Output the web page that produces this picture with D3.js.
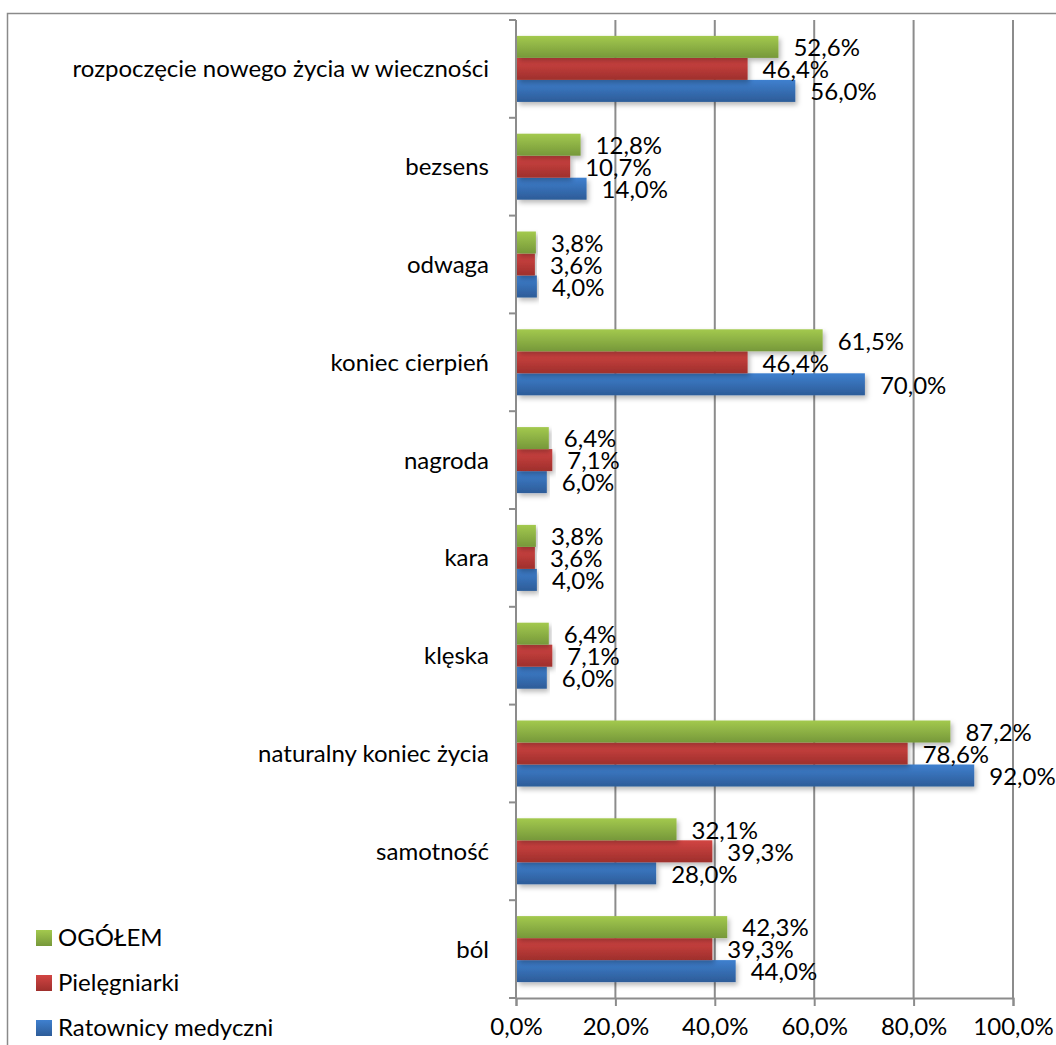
<!DOCTYPE html>
<html>
<head>
<meta charset="utf-8">
<script src="https://cdn.jsdelivr.net/npm/d3@7"></script>
<style>
  html, body { margin: 0; padding: 0; background: #fff; }
  svg { display: block; }
  text { font-family: Lato, "Open Sans", sans-serif; fill: #000; }
</style>
</head>
<body>
<svg id="chart" width="1056" height="1045"></svg>
<script>
// Categories, top to bottom
const categories = [
  "rozpoczęcie nowego życia w wieczności",
  "bezsens",
  "odwaga",
  "koniec cierpień",
  "nagroda",
  "kara",
  "klęska",
  "naturalny koniec życia",
  "samotność",
  "ból"
];

// Series (percent), listed in the order the bars are stacked inside each group
const seriesNames = ["OGÓŁEM", "Pielęgniarki", "Ratownicy medyczni"];
const ogolem       = [52.6, 12.8, 3.8, 61.5, 6.4, 3.8, 6.4, 87.2, 32.1, 42.3];
const pielegniarki = [46.4, 10.7, 3.6, 46.4, 7.1, 3.6, 7.1, 78.6, 39.3, 39.3];
const ratownicy    = [56.0, 14.0, 4.0, 70.0, 6.0, 4.0, 6.0, 92.0, 28.0, 44.0];

const xTicks = [0, 20, 40, 60, 80, 100];

const seriesValues = [ogolem, pielegniarki, ratownicy];
const palette = [
  { key: "g", top: "#a3c94e", bottom: "#76983a" },
  { key: "r", top: "#d24543", bottom: "#9e2f2c" },
  { key: "b", top: "#3f80cf", bottom: "#2d5c98" }
];

const FONT_SIZE = 24;
const pct = d => d.toFixed(1).replace(".", ",") + "%";

const svg = d3.select("#chart");
const defs = svg.append("defs");

palette.forEach(p => {
  const g = defs.append("linearGradient")
    .attr("id", "grad-" + p.key)
    .attr("x1", 0).attr("y1", 0).attr("x2", 0).attr("y2", 1);
  g.append("stop").attr("offset", "0%").attr("stop-color", p.top);
  g.append("stop").attr("offset", "100%").attr("stop-color", p.bottom);
});

const shadow = defs.append("filter").attr("id", "shadow")
  .attr("x", "-5%").attr("y", "-20%").attr("width", "115%").attr("height", "160%");
shadow.append("feDropShadow")
  .attr("dx", 2).attr("dy", 3).attr("stdDeviation", 2.5)
  .attr("flood-color", "#000").attr("flood-opacity", 0.28);

// Outer frame (top and left edges fall inside the canvas)
svg.append("path")
  .attr("d", "M7.5,1045 V13.5 H1056")
  .attr("fill", "none").attr("stroke", "#8a8a8a").attr("stroke-width", 1.5);

const plot = { left: 516, right: 1013, top: 20, bottom: 998 };

const x = d3.scaleLinear().domain([0, 100]).range([plot.left, plot.right]);
const y = d3.scaleBand().domain(categories).range([plot.top, plot.bottom])
  .paddingInner(0.325).paddingOuter(0.1625);
const ySub = d3.scaleBand().domain(d3.range(seriesNames.length)).range([0, y.bandwidth()]);

// Vertical gridlines
svg.append("g").selectAll("line")
  .data(xTicks.slice(1))
  .join("line")
  .attr("x1", d => x(d)).attr("x2", d => x(d))
  .attr("y1", plot.top).attr("y2", plot.bottom)
  .attr("stroke", "#8c8c8c").attr("stroke-width", 2);

// Bars
const groups = svg.append("g").selectAll("g")
  .data(categories)
  .join("g")
  .attr("transform", d => `translate(0,${y(d)})`);

groups.each(function (cat, ci) {
  const g = d3.select(this);
  const rows = seriesValues.map((vals, si) => ({ si, v: vals[ci] }));
  g.selectAll("rect")
    .data(rows.slice().reverse())
    .join("rect")
    .attr("x", x(0) + 1)
    .attr("y", d => ySub(d.si))
    .attr("width", d => x(d.v) - x(0))
    .attr("height", ySub.bandwidth())
    .attr("fill", d => `url(#grad-${palette[d.si].key})`)
    .attr("filter", "url(#shadow)");
});

// Value labels
groups.each(function (cat, ci) {
  const g = d3.select(this);
  const rows = seriesValues.map((vals, si) => ({ si, v: vals[ci] }));
  g.selectAll("text.val")
    .data(rows)
    .join("text")
    .attr("class", "val")
    .attr("x", d => x(d.v) + 16)
    .attr("y", d => ySub(d.si) + ySub.bandwidth() / 2 + 1)
    .attr("dy", "0.35em")
    .attr("font-size", FONT_SIZE)
    .text(d => pct(d.v));
});

// Category axis
const yAxisG = svg.append("g");
yAxisG.append("line")
  .attr("x1", plot.left).attr("x2", plot.left)
  .attr("y1", plot.top).attr("y2", plot.bottom)
  .attr("stroke", "#8c8c8c").attr("stroke-width", 2);
yAxisG.selectAll("line.tick")
  .data(d3.range(categories.length + 1))
  .join("line")
  .attr("class", "tick")
  .attr("x1", plot.left - 7).attr("x2", plot.left)
  .attr("y1", i => plot.top + i * y.step())
  .attr("y2", i => plot.top + i * y.step())
  .attr("stroke", "#8c8c8c").attr("stroke-width", 2);
yAxisG.selectAll("text")
  .data(categories)
  .join("text")
  .attr("x", 489)
  .attr("y", d => y(d) + y.bandwidth() / 2)
  .attr("dy", "0.35em")
  .attr("text-anchor", "end")
  .attr("font-size", FONT_SIZE)
  .text(d => d);

// Value axis
const xAxis = d3.axisBottom(x)
  .tickValues(xTicks)
  .tickSize(8)
  .tickFormat(pct);
const xAxisG = svg.append("g")
  .attr("transform", `translate(0,${plot.bottom})`)
  .call(xAxis);
xAxisG.select(".domain").attr("stroke", "#8c8c8c").attr("stroke-width", 2);
xAxisG.selectAll(".tick line").attr("stroke", "#8c8c8c").attr("stroke-width", 2);
xAxisG.selectAll(".tick text")
  .attr("font-family", "Lato, 'Open Sans', sans-serif")
  .attr("font-size", FONT_SIZE)
  .attr("fill", "#000")
  .attr("y", 29)
  .attr("dy", "0.35em");

// Legend
const legend = svg.append("g").selectAll("g")
  .data(seriesNames)
  .join("g")
  .attr("transform", (d, i) => `translate(36,${938 + i * 45})`);
legend.append("rect")
  .attr("x", 0).attr("y", -8).attr("width", 16).attr("height", 16)
  .attr("fill", (d, i) => `url(#grad-${palette[i].key})`);
legend.append("text")
  .attr("x", 22).attr("y", 0).attr("dy", "0.35em")
  .attr("font-size", FONT_SIZE)
  .text(d => d);
</script>
</body>
</html>
